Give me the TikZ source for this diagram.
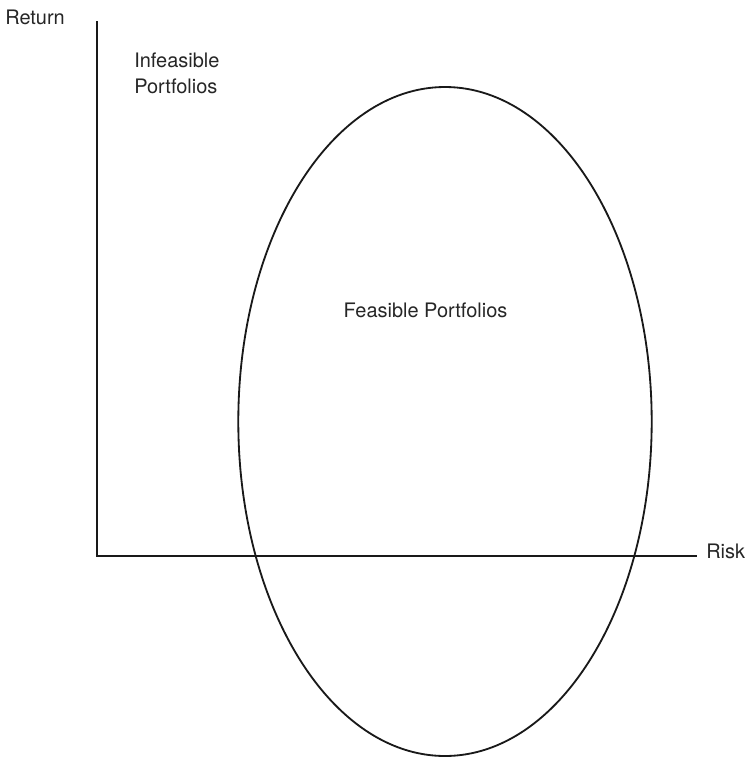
\documentclass[tikz,border=0pt]{standalone}
\usepackage{fontspec}
\setmainfont{TeX Gyre Heros}
\begin{document}
\begin{tikzpicture}[
    x=0.025cm, y=-0.025cm,
    lbl/.style={inner sep=0pt, font=\fontsize{14.2}{17.8}\selectfont, text=black!85},
    axis/.style={line width=1.7pt, black!90},
    curve/.style={line width=1.3pt, black!90}
]
    \useasboundingbox (0,0) rectangle (746,758);
    % Axes
    \coordinate (origin) at (97,556);
    \coordinate (ytop) at (97,21);
    \coordinate (xend) at (697,556);
    \draw[axis] (ytop) -- (origin) -- (xend);

    % Feasible region
    \coordinate (centre) at (445,421.5);
    \draw[curve] (centre) ellipse [x radius=206.7, y radius=334.5];

    % Labels
    \node[lbl, anchor=base west] (ret) at (5,24) {Return};
    \node[lbl, anchor=base west] (risk) at (706,558) {Risk};
    \node[lbl, anchor=base west, align=left] (infeas) at (134,93) {Infeasible\\Portfolios};
    \node[lbl, anchor=base] (feas) at (425.5,317) {Feasible Portfolios};
\end{tikzpicture}
\end{document}
